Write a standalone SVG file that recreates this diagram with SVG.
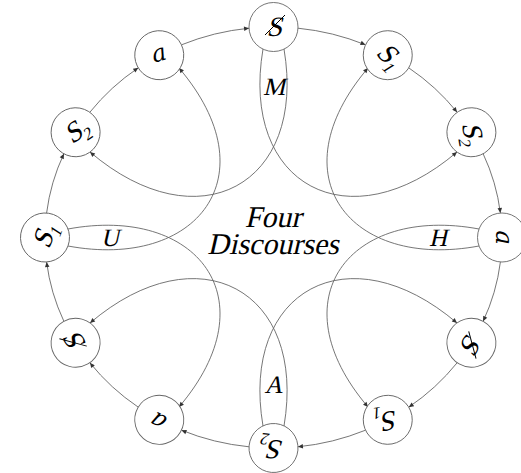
<svg xmlns="http://www.w3.org/2000/svg" width="521" height="473" viewBox="0 0 521 473">
<defs>
<marker id="arr" viewBox="0 0 10 10" refX="10" refY="5" markerWidth="6" markerHeight="5" markerUnits="userSpaceOnUse" orient="auto"><path d="M0,0.5 L10,5 L0,9.5 z" fill="#333"/></marker>
</defs>
<style>
.node circle{fill:#fff;stroke:#666;stroke-width:0.9}
text{font-family:'Liberation Serif',serif;fill:#000}
.lbl{font-size:28px}
.av{font-family:'DejaVu Serif',serif;font-style:italic;font-size:24px}
.sub{font-size:17px}
.bar{stroke:#000;stroke-width:1}
.edge{fill:none;stroke:#666;stroke-width:0.9;marker-end:url(#arr)}
.dl{font-size:25px;text-anchor:middle}
.title{font-size:30px;text-anchor:middle}
</style>
<rect width="521" height="473" fill="#fff"/>
<g id="connectors">
<path class="edge" d="M297.95,28.2 A228.5,210.5 0 0 1 365.5,44.8"/>
<path class="edge" d="M408.7,67.8 A228.5,210.5 0 0 1 457.1,112.2"/>
<path class="edge" d="M483.1,153.7 A228.5,210.5 0 0 1 500.4,213"/>
<path class="edge" d="M500.4,262 A228.5,210.5 0 0 1 483.1,321.3"/>
<path class="edge" d="M457.1,362.8 A228.5,210.5 0 0 1 408.7,407.2"/>
<path class="edge" d="M365.5,430.2 A228.5,210.5 0 0 1 297.95,446.8"/>
<path class="edge" d="M249.05,446.8 A228.5,210.5 0 0 1 181.5,430.2"/>
<path class="edge" d="M138.3,407.2 A228.5,210.5 0 0 1 89.9,362.8"/>
<path class="edge" d="M63.9,321.3 A228.5,210.5 0 0 1 46.6,262"/>
<path class="edge" d="M46.6,213 A228.5,210.5 0 0 1 63.9,153.7"/>
<path class="edge" d="M89.9,112.2 A228.5,210.5 0 0 1 138.3,67.8"/>
<path class="edge" d="M181.5,44.8 A228.5,210.5 0 0 1 249.05,28.2"/>
<path class="edge" d="M263,49 C240,185 349,244 457,152"/>
<path class="edge" d="M284,49 C307,185 198,244 90,152"/>
<path class="edge" d="M263,426 C240,290 349,231 457,323"/>
<path class="edge" d="M284,426 C307,290 198,231 90,323"/>
<path class="edge" d="M479,229 C350,205 276,299 368,407"/>
<path class="edge" d="M479,246 C350,270 276,176 368,68"/>
<path class="edge" d="M68,229 C197,205 271,299 179,407"/>
<path class="edge" d="M68,246 C197,270 271,176 179,68"/>
</g>
<g id="labels">
<text class="dl" transform="translate(274,95) skewX(-13)">M</text>
<text class="dl" transform="translate(438,246) skewX(-13)">H</text>
<text class="dl" transform="translate(273.5,393) skewX(-13)">A</text>
<text class="dl" transform="translate(110,246) skewX(-13)">U</text>
<text class="title" transform="translate(273,227) skewX(-13)">Four</text>
<text class="title" transform="translate(273,254) skewX(-13)">Discourses</text>
</g>
<g id="n0" class="node" transform="translate(273.5,27)"><circle r="24.5"/><text class="lbl" transform="translate(-7,9) skewX(-13)">S</text><line class="bar" x1="-8.5" y1="8" x2="11.5" y2="-12"/></g>
<g id="n1" class="node" transform="translate(387.75,55.2) rotate(45)"><circle r="24.5"/><text class="lbl" transform="translate(-10,8) skewX(-13)">S<tspan class="sub" dy="6">1</tspan></text></g>
<g id="n2" class="node" transform="translate(471.4,132.25) rotate(80)"><circle r="24.5"/><text class="lbl" transform="translate(-10,8) skewX(-13)">S<tspan class="sub" dy="6">2</tspan></text></g>
<g id="n3" class="node" transform="translate(502,237.5) rotate(90)"><circle r="24.5"/><text class="av" x="-7" y="6">a</text></g>
<g id="n4" class="node" transform="translate(471.4,342.75) rotate(120)"><circle r="24.5"/><text class="lbl" transform="translate(-7,9) skewX(-13)">S</text><line class="bar" x1="-8.5" y1="8" x2="11.5" y2="-12"/></g>
<g id="n5" class="node" transform="translate(387.75,419.8) rotate(170)"><circle r="24.5"/><text class="lbl" transform="translate(-10,8) skewX(-13)">S<tspan class="sub" dy="6">1</tspan></text></g>
<g id="n6" class="node" transform="translate(273.5,448) rotate(185)"><circle r="24.5"/><text class="lbl" transform="translate(-10,8) skewX(-13)">S<tspan class="sub" dy="6">2</tspan></text></g>
<g id="n7" class="node" transform="translate(159.25,419.8) rotate(210)"><circle r="24.5"/><text class="av" x="-7" y="6">a</text></g>
<g id="n8" class="node" transform="translate(75.6,342.75) rotate(240)"><circle r="24.5"/><text class="lbl" transform="translate(-7,9) skewX(-13)">S</text><line class="bar" x1="-8.5" y1="8" x2="11.5" y2="-12"/></g>
<g id="n9" class="node" transform="translate(45,237.5) rotate(290)"><circle r="24.5"/><text class="lbl" transform="translate(-10,8) skewX(-13)">S<tspan class="sub" dy="6">1</tspan></text></g>
<g id="n10" class="node" transform="translate(75.6,132.25) rotate(325)"><circle r="24.5"/><text class="lbl" transform="translate(-10,8) skewX(-13)">S<tspan class="sub" dy="6">2</tspan></text></g>
<g id="n11" class="node" transform="translate(159.25,55.2) rotate(345)"><circle r="24.5"/><text class="av" x="-7" y="6">a</text></g>
</svg>
